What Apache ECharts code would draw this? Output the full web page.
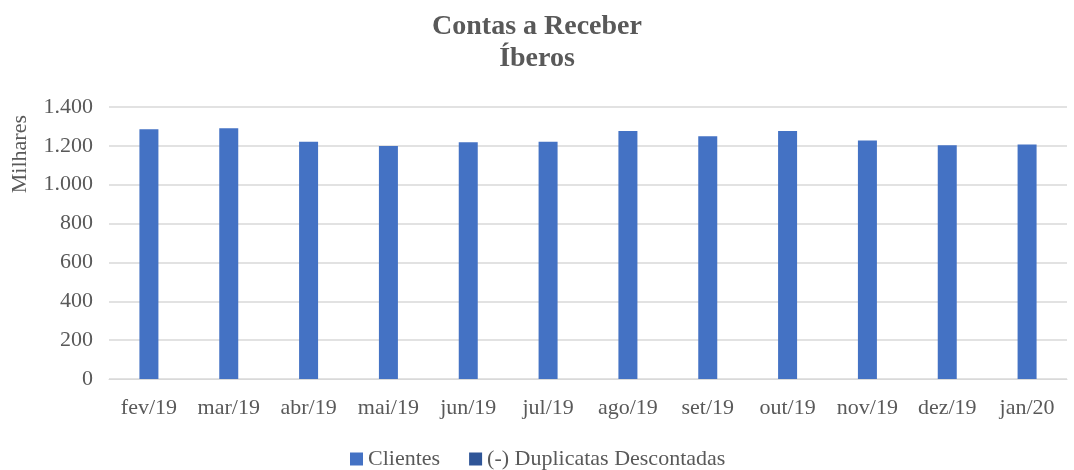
<!DOCTYPE html>
<html>
<head>
<meta charset="utf-8">
<script src="https://cdn.jsdelivr.net/npm/echarts@6/dist/echarts.min.js"></script>
<style>
  html, body { margin: 0; padding: 0; background: #fff; }
  #chart { width: 1074px; height: 470px; }
</style>
</head>
<body>
<div id="chart"></div>
<script>
"use strict";
var meses = ["fev/19", "mar/19", "abr/19", "mai/19", "jun/19", "jul/19", "ago/19", "set/19", "out/19", "nov/19", "dez/19", "jan/20"];
var clientes = [1286, 1290, 1221, 1199, 1218, 1221, 1276, 1249, 1276, 1227, 1203, 1207];
var duplicatas = [0, 0, 0, 0, 0, 0, 0, 0, 0, 0, 0, 0];
var eixoY = {min: 0, max: 1400, interval: 200};

var fonte = "'Liberation Serif', 'DejaVu Serif', serif";
var cinza = "#595959";

function milhar(v) {
    return String(v).replace(/\B(?=(\d{3})+(?!\d))/g, ".");
}

var chart = echarts.init(document.getElementById("chart"));
var option = {
    animation: false,
    textStyle: {fontFamily: fonte},
    title: {
        text: "Contas a Receber\nÍberos",
        left: "center",
        top: 6,
        textStyle: {fontFamily: fonte, fontSize: 28, fontWeight: "bold", color: cinza, lineHeight: 32}
    },
    graphic: [{
        type: "text",
        left: 9,
        top: 115,
        rotation: Math.PI / 2,
        style: {text: "Milhares", fontFamily: fonte, fontSize: 22, fill: cinza}
    }],
    legend: {
        data: ["Clientes", "(-) Duplicatas Descontadas"],
        top: 443,
        left: 345,
        itemWidth: 13,
        itemHeight: 13,
        itemGap: 29,
        icon: "rect",
        textStyle: {fontFamily: fonte, fontSize: 22, color: cinza}
    },
    grid: {left: 109, right: 7, top: 107, bottom: 91, containLabel: false},
    xAxis: {
        type: "category",
        data: meses,
        axisLine: {lineStyle: {color: "#d9d9d9", width: 1}},
        axisTick: {show: false},
        axisLabel: {fontFamily: fonte, fontSize: 22, color: cinza, margin: 18, interval: 0}
    },
    yAxis: {
        type: "value",
        min: eixoY.min,
        max: eixoY.max,
        interval: eixoY.interval,
        axisLine: {show: false},
        axisTick: {show: false},
        splitLine: {lineStyle: {color: "#d9d9d9", width: 1.5}},
        axisLabel: {fontFamily: fonte, fontSize: 22, color: cinza, margin: 16, formatter: milhar}
    },
    series: [{
        name: "Clientes",
        type: "bar",
        stack: "total",
        barWidth: 19,
        itemStyle: {color: "#4472C4"},
        data: clientes
    }, {
        name: "(-) Duplicatas Descontadas",
        type: "bar",
        stack: "total",
        barWidth: 19,
        itemStyle: {color: "#2F5597"},
        data: duplicatas
    }]
};
chart.setOption(option);
</script>
</body>
</html>
